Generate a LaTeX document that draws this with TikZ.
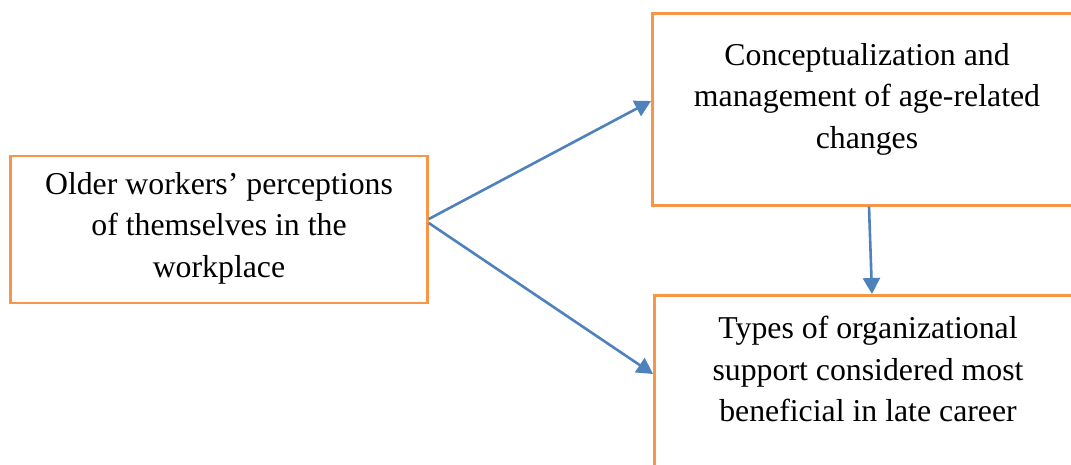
\documentclass[tikz,border=0pt]{standalone}
\usepackage{fontspec}
\setmainfont{Liberation Serif}
\usetikzlibrary{arrows.meta,calc}
\definecolor{boxorange}{RGB}{247,150,70}
\definecolor{arrowblue}{RGB}{79,129,189}
\begin{document}
\begin{tikzpicture}[x=1pt,y=-1pt,
  box/.style={draw=boxorange, line width=2.6pt, inner sep=0pt, fill=none},
  txt/.style={align=center, font=\fontsize{31.8}{41.5}\selectfont, inner sep=0pt},
  conn/.style={draw=arrowblue, line width=2.6pt, -{Triangle[length=16pt,width=17pt]}}]
\useasboundingbox (0,0) rectangle (1071,464);
\clip (0,0) rectangle (1071,464);
\fill[white] (0,0) rectangle (1071,464);
% boxes
\node[box, minimum width=417pt, minimum height=147pt] (a) at (219,229.5) {};
\node[txt] (at) at (219,228) {Older workers’ perceptions\\of themselves in the\\workplace};
\node[box, minimum width=432pt, minimum height=192pt, anchor=north west] (b) at (651,12) {};
\node[txt] (bt) at (867,99) {Conceptualization and\\management of age-related\\changes};
\node[box, minimum width=430pt, minimum height=200pt, anchor=north west] (c) at (653,294) {};
\node[txt] (ct) at (868,369) {Types of organizational\\support considered most\\beneficial in late career};
% connectors
\draw[conn] ($(a.east)+(0,-10.5)$) -- ($(b.north west)+(0,89)$);
\draw[conn] ($(a.east)+(0,-6.5)$) -- ($(c.north west)+(0,80)$);
\draw[conn] ($(b.south west)+(218,0)$) -- ($(c.north west)+(219,0)$);
\end{tikzpicture}
\end{document}
